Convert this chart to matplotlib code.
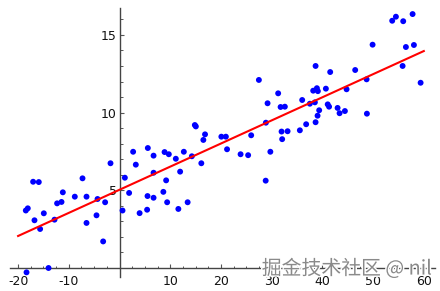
import numpy as np
import matplotlib
matplotlib.use('Agg')
import matplotlib.pyplot as plt
import matplotlib.patheffects as pe
from matplotlib.ticker import MultipleLocator, FixedLocator

# scatter points
x_vals = [-1.78, -17.04, -15.92, -7.30, -11.18, -8.82, -6.51, -12.31, -11.44, -18.09,
          -18.48, -4.34, -2.84, -16.77, -14.93, -12.82, -6.51, -4.54, -15.66, -3.23,
          -14.00, -18.34, 0.59, 1.05, 2.68, 5.58, 3.21, 6.71, 1.89, 3.96,
          5.52, 5.44, 6.71, 6.71, 8.88, 9.72, 11.10, 12.68, 14.26, 11.95,
          9.19, 8.64, 9.39, 11.60, 13.43, 16.13, 14.85, 15.05, 16.86, 16.53,
          20.08, 20.97, 21.20, 23.87, 25.36, 29.74, 28.82, 25.96, 28.86, 31.95,
          33.14, 32.07, 35.56, 36.80, 38.66, 39.05, 39.37, 37.53, 38.52, 36.02,
          31.76, 32.60, 29.19, 31.28, 27.48, 38.19, 38.92, 39.11, 40.69, 38.66,
          41.54, 46.47, 48.72, 44.77, 41.05, 41.32, 43.00, 43.39, 44.44, 48.78,
          49.90, 53.77, 54.50, 55.94, 57.79, 56.47, 58.05, 55.82, 59.37]
y_vals = [6.74, 5.55, 5.53, 5.77, 4.87, 4.59, 4.59, 4.16, 4.25, 3.84,
          3.70, 4.44, 4.23, 3.07, 3.52, 3.11, 2.90, 3.39, 2.51, 1.71,
          0.00, -0.28, 3.70, 5.81, 7.48, 7.72, 6.65, 7.23, 4.83, 3.53,
          4.63, 3.75, 4.52, 6.13, 7.46, 7.32, 7.03, 7.48, 7.19, 6.20,
          5.64, 4.90, 4.23, 3.80, 4.23, 6.74, 9.20, 9.11, 8.60, 8.24,
          8.45, 8.45, 7.64, 7.32, 7.26, 7.48, 5.62, 8.54, 9.35, 8.78,
          8.80, 8.29, 8.86, 9.25, 9.38, 9.80, 10.15, 10.57, 10.66, 10.81,
          10.36, 10.38, 10.60, 11.24, 12.10, 11.41, 11.57, 11.38, 11.54, 13.00,
          12.61, 12.74, 12.14, 11.50, 10.53, 10.38, 10.30, 9.96, 10.10, 9.93,
          14.37, 15.91, 16.17, 15.88, 16.34, 14.22, 14.35, 13.00, 11.92]

# fitted line end points
line_x = [-20, 60]
line_y = [2.06, 13.96]

x_ticks = [-20, -10, 10, 20, 30, 40, 50, 60]
y_ticks = [5, 10, 15]

fig = plt.figure(figsize=(4.4, 2.91), dpi=100)
ax = fig.add_axes([0.0227, 0.047, 0.967, 0.9255])

ax.scatter(x_vals, y_vals, s=18, color='#0000ff', edgecolors='none', zorder=3)
ax.plot(line_x, line_y, color='#ff0000', lw=1.5, zorder=4)

ax.set_xlim(-21.6, 62.3)
ax.set_ylim(-0.6, 16.73)

for s in ['top', 'right']:
    ax.spines[s].set_visible(False)
ax.spines['left'].set_position(('data', 0))
ax.spines['bottom'].set_position(('data', 0))
for s in ['left', 'bottom']:
    ax.spines[s].set_color('#444444')
    ax.spines[s].set_linewidth(1.0)

ax.xaxis.set_major_locator(FixedLocator(x_ticks))
ax.yaxis.set_major_locator(FixedLocator(y_ticks))
ax.xaxis.set_minor_locator(MultipleLocator(2.5))
ax.yaxis.set_minor_locator(MultipleLocator(1))
ax.set_xticklabels([str(t) for t in x_ticks])
ax.set_yticklabels([str(t) for t in y_ticks])

ax.tick_params(axis='both', which='major', direction='in', length=3, width=0.8,
               color='#555555', labelsize=9, labelcolor='#111111')
ax.tick_params(axis='both', which='minor', direction='in', length=1.8, width=0.7,
               color='#555555')
ax.tick_params(axis='x', which='major', pad=5)
ax.tick_params(axis='y', which='major', pad=2)

# watermark (sits over the axis labels, as in the source)
fig.text(432 / 440, 1 - 269 / 291, '掘金技术社区 @ nil', ha='right', va='center',
         fontsize=14.3, color='#8a8a8a', family=['Noto Sans CJK SC', 'DejaVu Sans'],
         path_effects=[pe.withStroke(linewidth=2, foreground='white')], zorder=10)

fig.savefig('out.png', dpi=100)
